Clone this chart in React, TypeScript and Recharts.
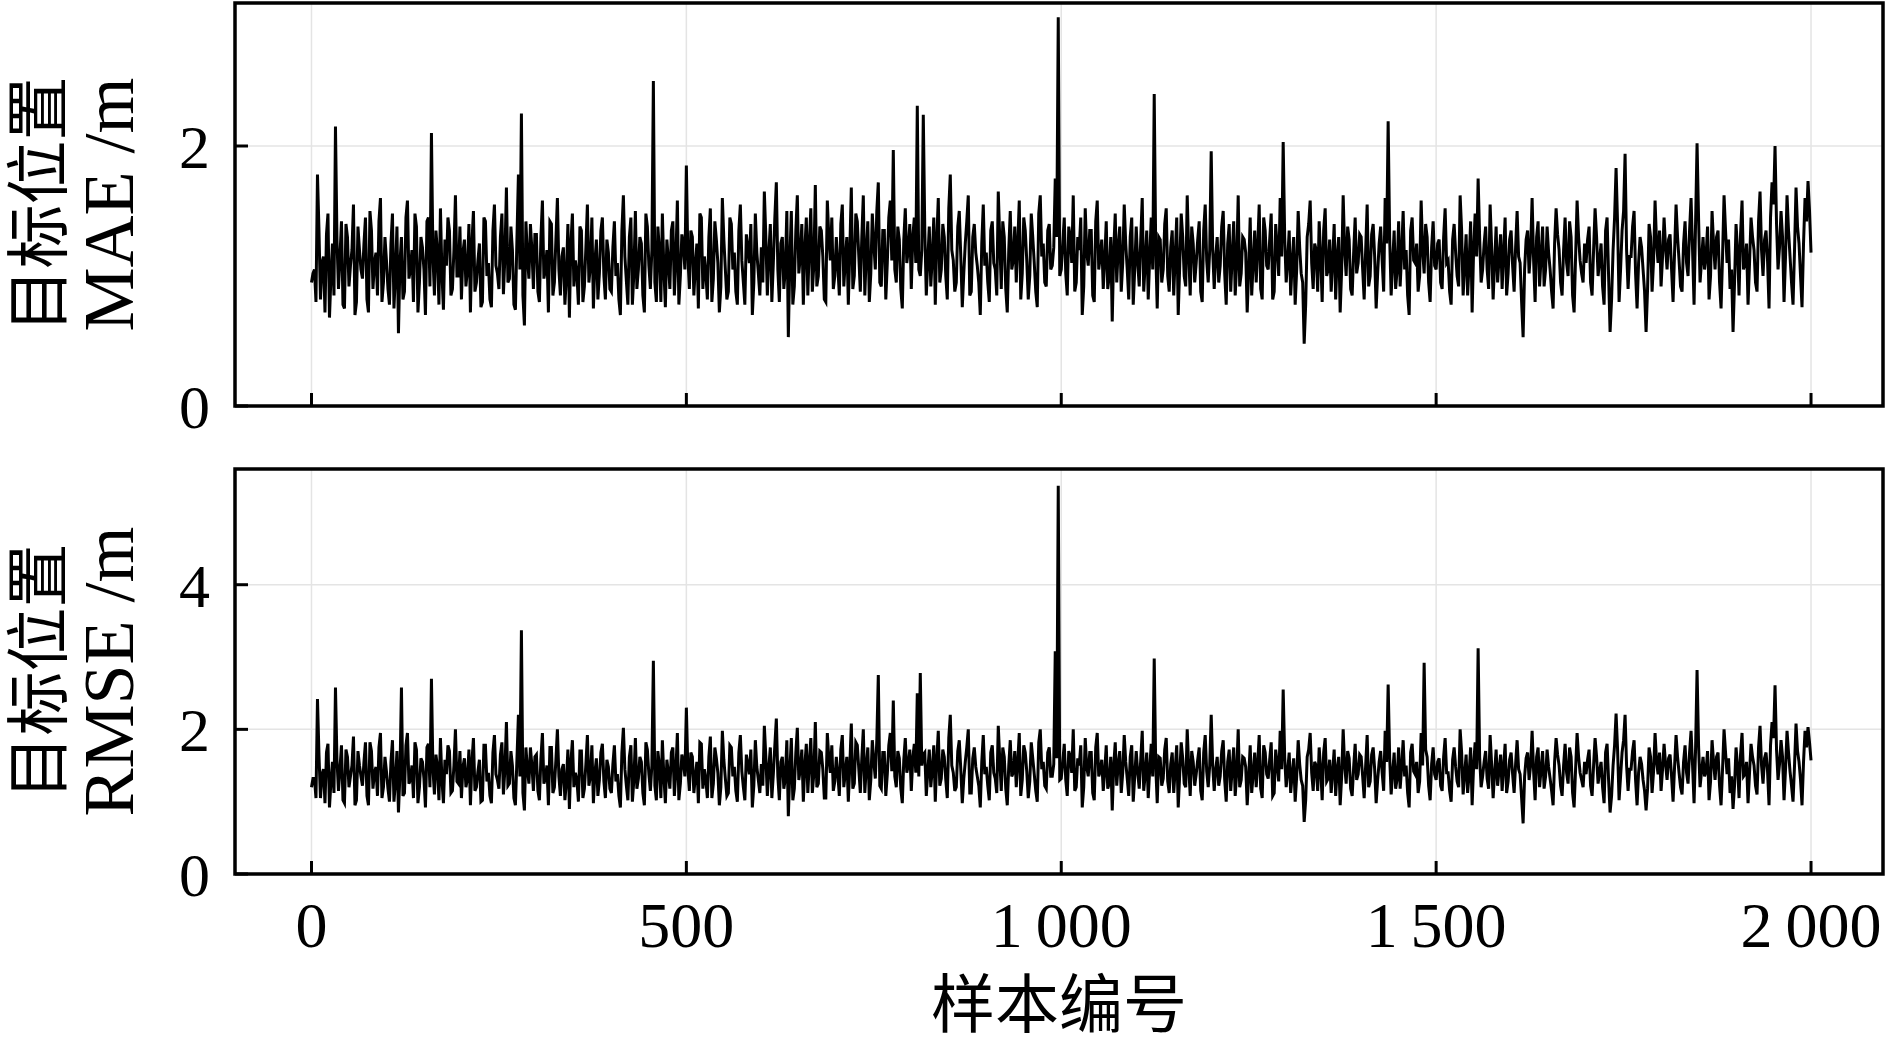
import { LineChart, Line, XAxis, YAxis, CartesianGrid, ReferenceArea } from "recharts";

const X_TICKS = [0, 500, 1000, 1500, 2000];
const X_DOMAIN = [-102, 2096];
const MAE_TICKS = [0, 2];
const RMSE_TICKS = [0, 2, 4];
const LAST_SAMPLE = 2000;
const SAMPLE_STEP = 4;

// 目标位置 MAE / m, samples 0, 4, 8, ... 2000
const MAE_VALUES = [
  0.95, 1.05, 1.78, 0.82, 1.15, 1.32, 0.68, 1.25, 2.15, 0.9, 1.42, 0.75, 1.3, 1.08, 1.55, 0.8, 1.2, 0.98, 1.45, 0.72, 1.35, 1.1, 0.85, 1.6, 0.95,
  1.12, 0.78, 1.48, 1.02, 0.56, 1.3, 0.88, 1.58, 1.05, 0.8, 1.38, 0.95, 1.22, 0.7, 1.45, 2.1, 0.85, 1.18, 1.52, 0.74, 1.08, 1.35, 0.9, 1.62, 1.0,
  0.82, 1.28, 1.05, 0.72, 1.5, 0.95, 1.25, 0.8, 1.42, 1.1, 0.76, 1.55, 1.02, 1.3, 0.86, 1.68, 0.98, 1.2, 0.74, 1.78, 2.25, 0.62, 1.15, 1.4, 0.9,
  1.32, 0.8, 1.58, 1.05, 0.72, 1.4, 0.95, 1.6, 0.85, 1.22, 1.0, 0.68, 1.48, 1.12, 0.78, 1.35, 0.92, 1.55, 1.08, 0.75, 1.28, 1.02, 1.45, 0.82, 1.18,
  0.88, 1.42, 1.1, 0.7, 1.62, 0.96, 1.3, 0.78, 1.5, 1.05, 1.25, 0.72, 1.38, 0.9, 2.5, 0.8, 1.2, 1.48, 0.76, 1.12, 1.35, 0.85, 1.58, 1.0, 1.25,
  1.85, 0.9, 1.3, 1.08, 0.75, 1.45, 1.15, 0.82, 1.52, 0.98, 1.28, 0.72, 1.6, 1.05, 0.88, 1.4, 1.18, 0.78, 1.55, 0.95, 1.32, 1.1, 0.7, 1.48, 1.02,
  1.22, 1.65, 0.85, 1.4, 1.1, 1.72, 0.8, 1.3, 1.05, 0.53, 1.5, 0.92, 1.62, 1.15, 0.78, 1.45, 1.25, 0.88, 1.7, 1.0, 1.35, 0.82, 1.58, 1.12, 0.9,
  1.3, 0.85, 1.55, 1.12, 0.78, 1.68, 1.0, 1.42, 0.88, 1.62, 1.18, 0.8, 1.48, 1.05, 1.72, 0.92, 1.35, 1.1, 1.58, 1.97, 0.95, 1.28, 0.75, 1.52, 1.2,
  0.9, 1.45, 2.31, 1.0, 2.24, 0.85, 1.38, 1.15, 0.78, 1.6, 1.05, 1.3, 0.82, 1.78, 1.12, 0.95, 1.5, 0.76, 1.25, 1.62, 0.88, 1.4, 1.08, 0.7, 1.55,
  1.18, 0.8, 1.42, 1.05, 1.65, 0.9, 1.3, 0.72, 1.5, 1.12, 0.95, 1.58, 1.02, 1.35, 0.82, 1.48, 1.1, 0.76, 1.62, 1.25, 0.92, 1.4, 1.08, 1.75, 2.99,
  1.05, 1.45, 0.85, 1.3, 1.62, 0.95, 1.2, 0.7, 1.52, 1.08, 1.35, 0.8, 1.58, 1.15, 0.9, 1.42, 1.0, 0.65, 1.48, 1.22, 0.88, 1.55, 1.05, 1.3, 0.78,
  1.38, 0.92, 1.6, 1.1, 0.82, 1.45, 2.4, 0.75, 1.28, 1.05, 1.52, 0.88, 1.35, 1.15, 0.7, 1.48, 1.0, 1.62, 0.85, 1.25, 1.1, 1.42, 0.8, 1.55, 0.95,
  1.96, 0.9, 1.3, 1.08, 1.5, 0.78, 1.4, 1.15, 0.85, 1.62, 1.02, 1.28, 0.72, 1.45, 1.1, 0.95, 1.55, 0.82, 1.35, 1.05, 1.48, 0.88, 1.22, 1.6, 2.03,
  0.95, 1.35, 1.1, 0.78, 1.5, 1.02, 0.48, 1.3, 1.58, 0.9, 1.2, 1.42, 0.8, 1.52, 1.05, 0.88, 1.4, 1.15, 0.72, 1.62, 1.0, 1.28, 0.85, 1.45, 1.1,
  1.3, 0.82, 1.55, 1.0, 1.4, 0.75, 1.25, 1.12, 1.6, 2.19, 0.85, 1.35, 1.05, 0.92, 1.5, 1.2, 0.7, 1.45, 1.1, 0.88, 1.58, 1.02, 1.3, 0.8, 1.42,
  1.05, 1.28, 0.9, 1.52, 1.12, 0.78, 1.4, 1.0, 1.62, 0.85, 1.32, 1.1, 0.72, 1.48, 1.75, 0.95, 1.25, 1.05, 1.55, 0.82, 1.38, 1.15, 0.9, 1.45, 1.02,
  1.35, 0.88, 1.5, 1.1, 0.53, 1.28, 1.02, 1.6, 0.8, 1.42, 1.15, 0.92, 1.38, 1.05, 0.75, 1.52, 1.2, 0.85, 1.45, 1.0, 1.3, 0.72, 1.58, 1.12, 0.95,
  1.1, 1.38, 0.85, 1.52, 1.0, 1.25, 0.78, 1.45, 0.57, 1.2, 1.83, 0.8, 1.35, 1.94, 0.9, 1.15, 1.5, 0.75, 1.3, 1.05, 0.57, 1.4, 0.88, 1.58, 1.1,
  0.92, 1.45, 1.05, 1.32, 0.8, 1.55, 1.12, 0.88, 1.42, 1.0, 1.6, 0.78, 2.02, 0.95, 1.3, 1.15, 0.82, 1.5, 1.05, 1.35, 0.75, 1.62, 1.1, 0.9, 0.57,
  1.4, 0.85, 1.58, 1.1, 0.78, 1.45, 1.2, 0.88, 1.65, 1.0, 1.35, 0.75, 1.72, 2.0, 1.05, 1.5, 0.8, 1.62, 1.15, 0.78, 1.68, 1.25, 0.76, 1.6, 1.73,
  1.18,
];

// 目标位置 MAE / m, samples 2, 6, 10, ... 1998
const MAE_VALUES_MID = [
  1.02, 0.8, 1.35, 1.1, 0.72, 1.48, 1.0, 0.85, 1.28, 1.15, 0.78, 1.4, 0.92, 1.2, 0.7, 1.38, 1.05, 1.25, 0.82, 1.5, 0.9, 1.18, 1.42, 0.8, 1.3,
  0.9, 1.25, 0.75, 1.38, 1.1, 0.82, 1.45, 0.98, 1.2, 1.48, 0.72, 1.3, 1.05, 1.42, 0.92, 1.15, 1.35, 0.78, 1.02, 1.28, 1.45, 0.85, 1.2, 1.0, 1.38,
  1.18, 0.92, 1.4, 1.25, 0.88, 1.12, 0.76, 1.45, 1.0, 0.82, 1.35, 1.08, 0.9, 1.48, 1.15, 0.95, 1.38, 0.78, 1.28, 1.05, 0.85, 1.42, 0.98, 1.2, 1.32,
  0.88, 1.3, 0.98, 1.2, 1.42, 0.85, 1.28, 1.05, 1.15, 0.78, 1.4, 1.25, 0.92, 1.02, 1.38, 0.8, 1.22, 0.95, 1.45, 1.1, 0.82, 1.35, 1.0, 1.28, 0.9,
  1.22, 1.0, 0.82, 1.35, 1.15, 0.78, 1.45, 1.02, 0.9, 1.3, 0.85, 1.48, 1.08, 1.2, 0.95, 1.38, 0.8, 1.05, 1.28, 0.9, 1.42, 1.12, 0.78, 1.32, 1.05,
  1.15, 1.35, 0.85, 1.25, 1.48, 0.9, 1.02, 1.3, 0.8, 1.42, 1.1, 0.92, 1.28, 0.82, 1.45, 1.05, 0.88, 1.35, 1.12, 0.78, 1.22, 1.4, 0.95, 1.18, 0.85,
  0.95, 1.3, 1.18, 0.8, 1.45, 1.05, 1.25, 0.9, 1.5, 1.12, 0.78, 1.35, 1.02, 1.4, 1.2, 0.85, 1.52, 1.08, 0.92, 1.38, 1.15, 0.8, 1.3, 1.45, 1.0,
  1.08, 1.4, 0.92, 1.3, 1.2, 0.9, 1.48, 1.15, 1.3, 0.85, 1.42, 1.02, 1.25, 1.5, 0.95, 1.35, 0.82, 1.45, 1.12, 1.05, 1.38, 0.9, 1.28, 1.1, 1.4,
  1.3, 1.1, 1.05, 1.2, 1.35, 1.12, 0.92, 1.45, 1.28, 0.95, 1.4, 1.0, 1.52, 1.2, 0.88, 1.38, 1.15, 1.02, 1.42, 0.85, 1.3, 1.18, 0.95, 1.25, 1.08,
  0.95, 1.35, 1.1, 0.85, 1.28, 1.42, 0.9, 1.2, 1.05, 1.38, 1.25, 0.82, 1.45, 1.12, 1.0, 1.3, 0.88, 1.48, 1.15, 0.95, 1.35, 1.05, 1.22, 1.3, 1.0,
  1.25, 1.02, 1.38, 1.1, 0.88, 1.3, 1.45, 0.92, 1.18, 1.35, 0.85, 1.42, 1.05, 1.28, 1.12, 0.9, 1.3, 1.2, 0.95, 1.38, 1.1, 1.25, 0.82, 1.45, 1.05,
  1.1, 1.28, 0.88, 1.35, 1.15, 1.05, 1.2, 1.3, 0.95, 1.4, 1.0, 1.22, 0.85, 1.45, 1.08, 1.3, 0.92, 1.18, 1.38, 0.95, 1.28, 0.88, 1.35, 1.12, 1.2,
  1.2, 1.15, 0.95, 1.38, 1.02, 1.25, 0.88, 1.42, 1.1, 0.92, 1.3, 1.18, 1.05, 0.85, 1.35, 1.22, 0.9, 1.45, 1.08, 1.28, 0.82, 1.4, 1.0, 1.15, 1.3,
  1.12, 0.85, 1.3, 1.05, 1.22, 0.95, 0.78, 1.4, 1.1, 1.25, 0.88, 1.15, 1.35, 1.0, 1.28, 1.12, 0.82, 1.3, 1.05, 1.2, 1.38, 0.9, 1.18, 1.02, 1.32,
  1.05, 1.2, 0.92, 1.32, 1.15, 1.02, 1.38, 0.88, 1.25, 1.3, 1.1, 0.9, 1.42, 1.18, 1.05, 0.85, 1.35, 1.12, 1.25, 1.0, 1.2, 1.4, 0.95, 1.22, 1.08,
  1.25, 0.95, 1.3, 1.1, 0.88, 1.28, 1.18, 0.92, 1.35, 1.08, 0.85, 1.42, 1.2, 1.15, 1.3, 1.05, 1.38, 0.9, 1.22, 1.1, 0.95, 1.32, 1.18, 0.85, 1.28,
  1.08, 1.22, 1.15, 0.8, 1.05, 1.35, 1.2, 1.12, 1.3, 0.92, 1.38, 1.05, 1.18, 0.88, 1.25, 1.32, 0.95, 1.2, 1.1, 1.42, 0.85, 1.15, 1.3, 1.02, 1.25,
  1.28, 0.95, 1.2, 1.3, 1.12, 0.92, 1.35, 1.0, 0.82, 1.45, 1.4, 1.05, 1.5, 1.2, 1.15, 1.38, 1.02, 1.1, 1.22, 0.88, 0.9, 1.3, 1.12, 1.25, 1.35,
  1.15, 1.22, 1.28, 1.05, 1.18, 1.3, 0.92, 1.25, 1.1, 1.35, 1.2, 1.4, 1.45, 1.12, 1.05, 1.38, 1.0, 1.25, 1.3, 0.95, 1.15, 1.35, 1.28, 1.05, 0.95,
  1.2, 1.32, 1.05, 1.25, 1.1, 1.3, 0.95, 1.42, 1.2, 1.28, 1.12, 1.45, 1.55, 1.4, 1.22, 1.3, 1.15, 1.35, 0.95, 1.2, 1.38, 1.0, 1.25, 1.42, 1.5,
];

// 目标位置 RMSE / m, samples 0, 4, 8, ... 2000
const RMSE_VALUES = [
  1.2, 1.32, 2.42, 1.05, 1.45, 1.68, 0.92, 1.55, 2.58, 1.15, 1.78, 0.98, 1.62, 1.35, 1.9, 1.02, 1.5, 1.22, 1.82, 0.95, 1.7, 1.4, 1.08, 1.95, 1.2,
  1.42, 1.0, 1.85, 1.28, 0.85, 2.58, 1.12, 1.95, 1.3, 1.05, 1.72, 1.2, 1.55, 0.92, 1.8, 2.7, 1.1, 1.48, 1.88, 0.98, 1.38, 1.7, 1.15, 2.0, 1.25,
  1.05, 1.6, 1.32, 0.95, 1.88, 1.2, 1.58, 1.02, 1.78, 1.4, 0.98, 1.92, 1.3, 1.65, 1.1, 2.1, 1.25, 1.5, 0.95, 2.2, 3.37, 0.88, 1.45, 1.75, 1.15,
  1.65, 1.02, 1.95, 1.32, 0.95, 1.75, 1.2, 2.0, 1.08, 1.52, 1.28, 0.9, 1.85, 1.4, 1.0, 1.7, 1.18, 1.92, 1.35, 0.98, 1.6, 1.3, 1.8, 1.05, 1.48,
  1.12, 1.78, 1.38, 0.92, 2.02, 1.22, 1.62, 1.0, 1.88, 1.32, 1.55, 0.95, 1.72, 1.15, 2.95, 1.02, 1.5, 1.85, 0.98, 1.4, 1.68, 1.08, 1.95, 1.25, 1.55,
  2.3, 1.15, 1.62, 1.35, 0.98, 1.8, 1.45, 1.05, 1.9, 1.25, 1.6, 0.95, 1.98, 1.32, 1.12, 1.75, 1.48, 1.0, 1.92, 1.2, 1.65, 1.38, 0.92, 1.85, 1.3,
  1.52, 2.05, 1.08, 1.75, 1.38, 2.15, 1.02, 1.62, 1.32, 0.8, 1.88, 1.18, 2.02, 1.45, 1.0, 1.8, 1.55, 1.12, 2.1, 1.25, 1.68, 1.05, 1.95, 1.4, 1.15,
  1.62, 1.08, 1.92, 1.4, 1.0, 2.08, 1.25, 1.78, 1.12, 2.0, 1.48, 1.02, 1.85, 1.32, 2.75, 1.18, 1.68, 1.38, 1.95, 2.4, 1.2, 1.6, 0.98, 1.88, 1.5,
  1.15, 1.8, 2.5, 2.78, 1.65, 1.08, 1.72, 1.45, 1.0, 1.98, 1.32, 1.62, 1.05, 2.2, 1.4, 1.2, 1.85, 0.98, 1.55, 2.0, 1.12, 1.75, 1.35, 0.92, 1.92,
  1.48, 1.02, 1.78, 1.32, 2.05, 1.15, 1.62, 0.95, 1.85, 1.4, 1.2, 1.95, 1.3, 1.68, 1.05, 1.82, 1.38, 1.0, 2.0, 1.55, 1.18, 1.75, 1.35, 3.08, 5.37,
  1.32, 1.8, 1.08, 1.62, 2.0, 1.2, 1.5, 0.92, 1.88, 1.35, 1.68, 1.02, 1.95, 1.42, 1.15, 1.78, 1.25, 0.88, 1.82, 1.52, 1.12, 1.92, 1.32, 1.62, 1.0,
  1.7, 1.18, 1.98, 1.38, 1.05, 1.8, 2.98, 0.98, 1.6, 1.32, 1.88, 1.12, 1.68, 1.45, 0.92, 1.82, 1.25, 2.0, 1.08, 1.55, 1.38, 1.75, 1.02, 1.92, 1.2,
  2.2, 1.15, 1.62, 1.35, 1.85, 1.0, 1.72, 1.45, 1.08, 2.0, 1.3, 1.6, 0.95, 1.78, 1.38, 1.2, 1.92, 1.05, 1.68, 1.32, 1.82, 1.12, 1.52, 1.98, 2.55,
  1.2, 1.68, 1.38, 1.0, 1.85, 1.3, 0.72, 1.62, 1.95, 1.15, 1.5, 1.75, 1.02, 1.88, 1.32, 1.12, 1.72, 1.45, 0.95, 2.0, 1.25, 1.6, 1.08, 1.8, 1.38,
  1.62, 1.05, 1.92, 1.28, 1.75, 0.98, 1.55, 1.4, 1.98, 2.62, 1.1, 1.68, 1.32, 1.18, 1.85, 1.5, 0.92, 1.8, 1.38, 1.12, 1.95, 2.92, 1.62, 1.02, 1.75,
  1.3, 1.6, 1.15, 1.88, 1.4, 1.0, 1.75, 1.28, 2.0, 1.1, 1.65, 1.38, 0.95, 1.82, 3.12, 1.2, 1.55, 1.32, 1.92, 1.05, 1.72, 1.45, 1.15, 1.8, 1.28,
  1.68, 1.12, 1.85, 1.38, 0.7, 1.6, 1.3, 1.98, 1.02, 1.75, 1.45, 1.18, 1.72, 1.32, 0.95, 1.88, 1.5, 1.08, 1.8, 1.25, 1.62, 0.92, 1.95, 1.4, 1.2,
  1.38, 1.72, 1.08, 1.88, 1.25, 1.55, 0.98, 1.8, 0.85, 1.5, 2.22, 1.02, 1.68, 2.2, 1.15, 1.45, 1.85, 0.95, 1.62, 1.3, 0.88, 1.75, 1.12, 1.95, 1.38,
  1.15, 1.8, 1.3, 1.65, 1.0, 1.92, 1.4, 1.1, 1.78, 1.25, 1.98, 0.98, 2.82, 1.2, 1.62, 1.42, 1.02, 1.85, 1.3, 1.68, 0.95, 2.0, 1.38, 1.12, 0.9,
  1.75, 1.05, 1.95, 1.38, 0.98, 1.8, 1.5, 1.1, 2.05, 1.25, 1.68, 0.95, 2.1, 2.61, 1.3, 1.85, 1.02, 1.98, 1.42, 1.0, 2.08, 1.55, 0.95, 1.98, 2.03,
  1.57,
];

// 目标位置 RMSE / m, samples 2, 6, 10, ... 1998
const RMSE_VALUES_MID = [
  1.32, 1.05, 1.65, 1.38, 0.98, 1.8, 1.28, 1.12, 1.58, 1.45, 1.02, 1.72, 1.2, 1.5, 0.95, 1.7, 1.35, 1.55, 1.08, 1.82, 1.18, 1.48, 1.75, 1.05, 1.62,
  1.18, 1.55, 1.0, 1.7, 1.38, 1.08, 1.78, 1.25, 1.5, 1.82, 0.98, 1.6, 1.32, 1.75, 1.2, 1.45, 1.65, 1.02, 1.3, 1.58, 1.78, 1.12, 1.5, 1.28, 1.7,
  1.48, 1.2, 1.72, 1.55, 1.15, 1.42, 1.0, 1.78, 1.28, 1.08, 1.68, 1.38, 1.18, 1.82, 1.45, 1.22, 1.7, 1.05, 1.58, 1.35, 1.12, 1.75, 1.25, 1.5, 1.62,
  1.15, 1.6, 1.25, 1.5, 1.75, 1.12, 1.58, 1.35, 1.45, 1.02, 1.72, 1.55, 1.2, 1.3, 1.7, 1.05, 1.52, 1.22, 1.78, 1.4, 1.08, 1.68, 1.28, 1.58, 1.18,
  1.52, 1.28, 1.08, 1.68, 1.45, 1.02, 1.78, 1.3, 1.18, 1.62, 1.12, 1.82, 1.38, 1.5, 1.22, 1.7, 1.05, 1.35, 1.58, 1.18, 1.75, 1.42, 1.02, 1.65, 1.35,
  1.45, 1.68, 1.12, 1.55, 1.82, 1.18, 1.3, 1.62, 1.05, 1.75, 1.4, 1.2, 1.58, 1.08, 1.78, 1.35, 1.15, 1.68, 1.42, 1.02, 1.52, 1.72, 1.22, 1.48, 1.12,
  1.22, 1.62, 1.48, 1.05, 1.78, 1.35, 1.55, 1.18, 1.85, 1.42, 1.02, 1.68, 1.3, 1.72, 1.5, 1.12, 1.88, 1.38, 1.2, 1.7, 1.45, 1.05, 1.6, 1.78, 1.28,
  1.38, 1.72, 1.2, 1.62, 1.5, 1.18, 1.82, 1.45, 1.6, 1.12, 1.75, 1.3, 1.55, 1.85, 1.22, 1.68, 1.08, 1.78, 1.42, 1.35, 1.7, 1.18, 1.58, 1.4, 1.72,
  1.6, 1.4, 1.35, 1.5, 1.68, 1.42, 1.2, 1.78, 1.58, 1.22, 1.72, 1.3, 1.88, 1.5, 1.15, 1.7, 1.45, 1.32, 1.75, 1.12, 1.6, 1.48, 1.22, 1.55, 1.38,
  1.22, 1.68, 1.4, 1.12, 1.58, 1.75, 1.18, 1.5, 1.35, 1.7, 1.55, 1.08, 1.78, 1.42, 1.28, 1.6, 1.15, 1.82, 1.45, 1.22, 1.68, 1.35, 1.52, 1.6, 1.3,
  1.55, 1.3, 1.7, 1.4, 1.15, 1.6, 1.78, 1.2, 1.48, 1.68, 1.12, 1.75, 1.35, 1.58, 1.42, 1.18, 1.62, 1.5, 1.22, 1.7, 1.4, 1.55, 1.08, 1.78, 1.35,
  1.4, 1.58, 1.15, 1.68, 1.45, 1.35, 1.5, 1.62, 1.22, 1.72, 1.28, 1.52, 1.12, 1.78, 1.38, 1.6, 1.2, 1.48, 1.7, 1.22, 1.58, 1.15, 1.68, 1.42, 1.5,
  1.5, 1.45, 1.22, 1.7, 1.3, 1.55, 1.15, 1.75, 1.4, 1.2, 1.62, 1.48, 1.35, 1.12, 1.68, 1.52, 1.18, 1.78, 1.38, 1.58, 1.08, 1.72, 1.28, 1.45, 1.62,
  1.42, 1.12, 1.6, 1.35, 1.52, 1.22, 1.02, 1.72, 1.4, 1.55, 1.15, 1.45, 1.68, 1.28, 1.58, 1.42, 1.08, 1.62, 1.35, 1.5, 1.7, 1.18, 1.48, 1.3, 1.65,
  1.35, 1.5, 1.2, 1.65, 1.45, 1.3, 1.7, 1.15, 1.55, 1.62, 1.4, 1.18, 1.75, 1.48, 1.35, 1.12, 1.68, 1.42, 1.55, 1.28, 1.5, 1.72, 1.22, 1.52, 1.38,
  1.55, 1.22, 1.62, 1.4, 1.15, 1.58, 1.48, 1.2, 1.68, 1.38, 1.12, 1.75, 1.5, 1.45, 1.62, 1.35, 1.7, 1.18, 1.52, 1.4, 1.22, 1.65, 1.48, 1.12, 1.58,
  1.38, 1.52, 1.45, 1.05, 1.35, 1.68, 1.5, 1.42, 1.62, 1.2, 1.7, 1.35, 1.48, 1.15, 1.55, 1.65, 1.22, 1.5, 1.4, 1.75, 1.12, 1.45, 1.62, 1.3, 1.55,
  1.58, 1.22, 1.5, 1.62, 1.42, 1.2, 1.68, 1.3, 1.08, 1.78, 1.72, 1.35, 1.85, 1.5, 1.45, 1.7, 1.3, 1.4, 1.52, 1.15, 1.18, 1.62, 1.42, 1.55, 1.68,
  1.45, 1.52, 1.6, 1.35, 1.48, 1.62, 1.2, 1.55, 1.4, 1.68, 1.5, 1.72, 1.78, 1.42, 1.35, 1.7, 1.28, 1.55, 1.62, 1.22, 1.45, 1.68, 1.6, 1.35, 1.22,
  1.5, 1.65, 1.35, 1.55, 1.4, 1.62, 1.22, 1.75, 1.5, 1.6, 1.42, 1.78, 1.88, 1.72, 1.52, 1.62, 1.45, 1.68, 1.22, 1.5, 1.7, 1.3, 1.55, 1.75, 1.82,
];

// interleave the two sample sets into one series ordered by sample number
const buildSeries = (main: number[], mid: number[]) =>
  [
    ...main.map((v, i) => ({ sample: i * SAMPLE_STEP, value: v })),
    ...mid.map((v, i) => ({ sample: i * SAMPLE_STEP + SAMPLE_STEP / 2, value: v })),
  ]
    .filter((d) => d.sample <= LAST_SAMPLE)
    .sort((a, b) => a.sample - b.sample);

const maeData = buildSeries(MAE_VALUES, MAE_VALUES_MID);
const rmseData = buildSeries(RMSE_VALUES, RMSE_VALUES_MID);

const SERIF = "'Liberation Serif', 'Times New Roman', serif";
const CJK = "'Noto Sans CJK SC', sans-serif";
const GRID = "#e4e4e4";

const fmtSample = (v: number) => (v >= 1000 ? `${Math.floor(v / 1000)}\u2009${String(v % 1000).padStart(3, "0")}` : `${v}`);

const YTitle = (props: any) => {
  const vb = props.viewBox || {};
  const cy = vb.y + vb.height / 2;
  return (
    <g>
      <text
        transform={`translate(${vb.x + 61},${cy}) rotate(-90)`}
        textAnchor="middle"
        fontFamily={CJK}
        fontSize={64}
        fill="#000"
      >
        目标位置
      </text>
      <text
        transform={`translate(${vb.x + 133},${cy}) rotate(-90)`}
        textAnchor="middle"
        fontFamily={SERIF}
        fontSize={72}
        fill="#000"
      >
        {props.unitLabel}
      </text>
    </g>
  );
};

const tickLineStyle = { stroke: "#000", strokeWidth: 3 };

const App = () => {
  return (
    <div style={{ position: "absolute", left: 0, top: 0, width: 1890, height: 1039, background: "#fff" }}>
      <div style={{ position: "absolute", left: 0, top: 0 }}>
        <LineChart width={1890} height={440} data={maeData} margin={{ top: 3, right: 7, left: 0, bottom: 24 }}>
          <CartesianGrid stroke={GRID} strokeWidth={1.5} />
          <XAxis
            dataKey="sample"
            type="number"
            domain={X_DOMAIN}
            ticks={X_TICKS}
            interval={0}
            allowDataOverflow
            height={10}
            axisLine={false}
            tickFormatter={() => ""}
            tickLine={tickLineStyle}
            tickSize={-13}
          />
          <YAxis
            type="number"
            domain={[0, 3.1]}
            ticks={MAE_TICKS}
            interval={0}
            allowDataOverflow
            width={235}
            axisLine={false}
            tickLine={tickLineStyle}
            tickSize={-13}
            tickMargin={38}
            tick={{ fontFamily: SERIF, fontSize: 62, fill: "#000" }}
            label={(p: any) => <YTitle {...p} unitLabel="MAE /m" />}
          />
          <ReferenceArea
            x1={X_DOMAIN[0]}
            x2={X_DOMAIN[1]}
            y1={0}
            y2={3.1}
            fill="none"
            stroke="#000"
            strokeWidth={3.5}
            ifOverflow="visible"
          />
          <Line
            type="linear"
            dataKey="value"
            stroke="#000"
            strokeWidth={3}
            dot={false}
            isAnimationActive={false}
          />
        </LineChart>
      </div>
      <div style={{ position: "absolute", left: 0, top: 440 }}>
        <LineChart width={1890} height={599} data={rmseData} margin={{ top: 29, right: 7, left: 0, bottom: 5 }}>
          <CartesianGrid stroke={GRID} strokeWidth={1.5} />
          <XAxis
            dataKey="sample"
            type="number"
            domain={X_DOMAIN}
            ticks={X_TICKS}
            interval={0}
            allowDataOverflow
            height={160}
            axisLine={false}
            tickLine={tickLineStyle}
            tickSize={-13}
            tickMargin={41}
            tickFormatter={fmtSample}
            tick={{ fontFamily: SERIF, fontSize: 64, fill: "#000" }}
            label={{
              value: "样本编号",
              position: "insideBottom",
              offset: 7,
              fontFamily: CJK,
              fontSize: 64,
              fill: "#000",
            }}
          />
          <YAxis
            type="number"
            domain={[0, 5.6]}
            ticks={RMSE_TICKS}
            interval={0}
            allowDataOverflow
            width={235}
            axisLine={false}
            tickLine={tickLineStyle}
            tickSize={-13}
            tickMargin={38}
            tick={{ fontFamily: SERIF, fontSize: 62, fill: "#000" }}
            label={(p: any) => <YTitle {...p} unitLabel="RMSE /m" />}
          />
          <ReferenceArea
            x1={X_DOMAIN[0]}
            x2={X_DOMAIN[1]}
            y1={0}
            y2={5.6}
            fill="none"
            stroke="#000"
            strokeWidth={3.5}
            ifOverflow="visible"
          />
          <Line
            type="linear"
            dataKey="value"
            stroke="#000"
            strokeWidth={3}
            dot={false}
            isAnimationActive={false}
          />
        </LineChart>
      </div>
    </div>
  );
};

export default App;
